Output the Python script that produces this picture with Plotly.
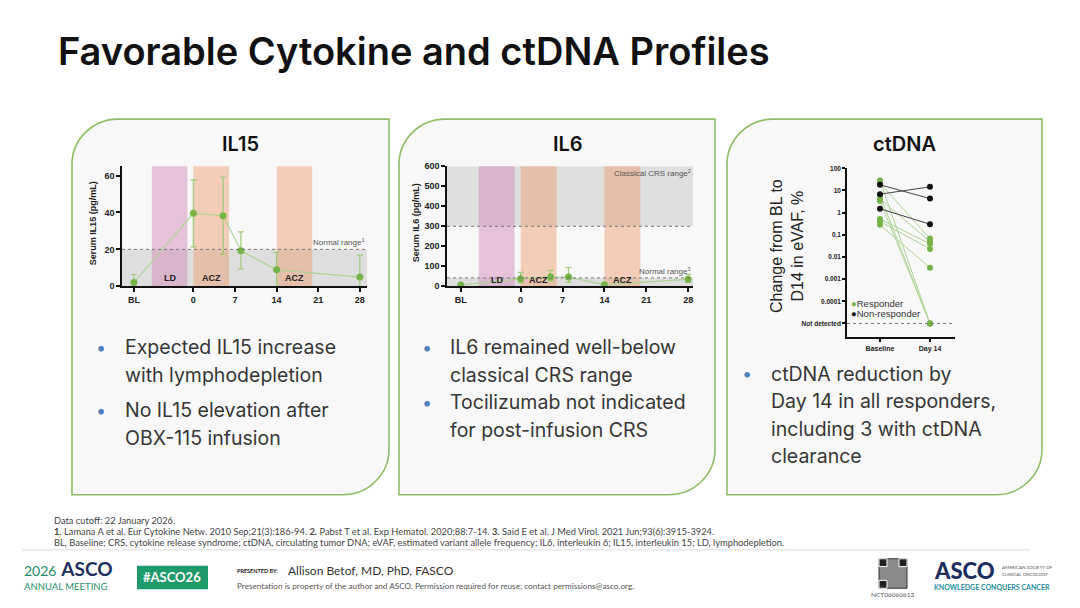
import plotly.graph_objects as go

# ---- data ----
il15_days = [-10, 0, 5, 8, 14, 28]
il15_mean = [2.0, 39.5, 38.2, 19.3, 8.9, 5.0]
il15_err_hi = [4.4, 18.1, 21.0, 10.2, 9.4, 11.9]
il15_err_lo = [2.0, 18.2, 20.8, 9.9, 8.9, 5.0]

il6_days = [-10, 0, 5, 8, 14, 28]
il6_mean = [6, 38, 46, 46, 8, 35]
il6_err_hi = [0, 32, 34, 48, 0, 25]
il6_err_lo = [0, 20, 20, 25, 0, 15]

day_ticks = [-10, 0, 7, 14, 21, 28]
day_labels = ["BL", "0", "7", "14", "21", "28"]

NOT_DETECTED = 1e-5
resp_baseline = [28, 21, 6.1, 4.1, 3.3, 0.52, 0.40, 0.28]
resp_day14 = [NOT_DETECTED, 0.068, NOT_DETECTED, 0.05, NOT_DETECTED, 0.039, 0.023, 0.0033]
nonresp_baseline = [18, 6.8, 1.5]
nonresp_day14 = [4.3, 14.5, 0.3]
ctdna_ticks = [1e-5, 1e-4, 1e-3, 0.01, 0.1, 1, 10, 100]
ctdna_labels = ["Not detected", "0.0001", "0.001", "0.01", "0.1", "1", "10", "100"]

W, H = 1080, 608
GREEN_PT = "#76b347"
GREEN_LN = "#add495"
TXT = "#363636"
FONT = "Inter"
AXFONT = "Liberation Sans, Arial"


def px(x):
    return x / W


def py(y):
    return 1 - y / H


def panel_path(x0, y0, x1, y1, r=46):
    # rounded top-left and bottom-right corners, in paper units
    k = 0.55
    rx, ry = r / W, r / H
    X0, X1 = px(x0), px(x1)
    T, B = py(y0), py(y1)
    return (f"M {X0},{B} L {X0},{T - ry} "
            f"C {X0},{T - ry + k * ry} {X0 + rx - k * rx},{T} {X0 + rx},{T} "
            f"L {X1},{T} L {X1},{B + ry} "
            f"C {X1},{B + ry - k * ry} {X1 - rx + k * rx},{B} {X1 - rx},{B} Z")


def pairs(a, b):
    xs, ys = [], []
    for u, v in zip(a, b):
        xs += [0, 1, None]
        ys += [u, v, None]
    return xs, ys


fig = go.Figure()

# IL15
fig.add_trace(go.Scatter(
    x=il15_days, y=il15_mean, mode="lines+markers", xaxis="x", yaxis="y",
    line=dict(color=GREEN_LN, width=1.2),
    marker=dict(color=GREEN_PT, size=7),
    error_y=dict(type="data", array=il15_err_hi, arrayminus=il15_err_lo,
                 color="#9cc97a", thickness=1.2, width=3),
    cliponaxis=False, showlegend=False))

# IL6
fig.add_trace(go.Scatter(
    x=il6_days, y=il6_mean, mode="lines+markers", xaxis="x2", yaxis="y2",
    line=dict(color=GREEN_LN, width=1.2),
    marker=dict(color=GREEN_PT, size=7),
    error_y=dict(type="data", array=il6_err_hi, arrayminus=il6_err_lo,
                 color="#9cc97a", thickness=1.2, width=3),
    cliponaxis=False, showlegend=False))

# ctDNA
rx_, ry_ = pairs(resp_baseline, resp_day14)
fig.add_trace(go.Scatter(
    x=rx_, y=ry_, mode="lines+markers", xaxis="x3", yaxis="y3",
    line=dict(color=GREEN_LN, width=1), marker=dict(color=GREEN_PT, size=6),
    cliponaxis=False, showlegend=False))
nx_, ny_ = pairs(nonresp_baseline, nonresp_day14)
fig.add_trace(go.Scatter(
    x=nx_, y=ny_, mode="lines+markers", xaxis="x3", yaxis="y3",
    line=dict(color="#444444", width=1), marker=dict(color="#111111", size=6),
    cliponaxis=False, showlegend=False))

shapes = []
# panels
for x0, x1 in [(72, 389), (399, 715), (727, 1042)]:
    shapes.append(dict(type="path", xref="paper", yref="paper", layer="below",
                       path=panel_path(x0, 116, x1, 498),
                       fillcolor="#f8f8f8", line=dict(color="#8fbd68", width=1.6)))

GRAY = "rgba(170,170,170,0.33)"
PINK = "rgba(212,140,188,0.5)"
PEACH = "rgba(238,152,104,0.45)"


def bands(xa, ya):
    out = []
    for a, b, c in [(-7, -1, PINK), (0, 6, PEACH), (14, 20, PEACH)]:
        out.append(dict(type="rect", xref=xa, yref=ya + " domain", x0=a, x1=b,
                        y0=0, y1=1, fillcolor=c, line_width=0, layer="below"))
    return out


def hband(xa, ya, lo, hi):
    return dict(type="rect", xref=xa + " domain", yref=ya, x0=0, x1=1, y0=lo, y1=hi,
                fillcolor=GRAY, line_width=0, layer="below")


def dline(xa, ya, yv):
    return dict(type="line", xref=xa + " domain", yref=ya, x0=0, x1=1, y0=yv, y1=yv,
                line=dict(color="#777777", width=1, dash="dot"), layer="above")


shapes += [hband("x", "y", 0, 20)] + bands("x", "y") + [dline("x", "y", 20)]
shapes += [hband("x2", "y2", 0, 42), hband("x2", "y2", 300, 600)] + bands("x2", "y2")
shapes += [dline("x2", "y2", 42), dline("x2", "y2", 300)]
shapes.append(dline("x3", "y3", NOT_DETECTED))
# footer rule
shapes.append(dict(type="line", xref="paper", yref="paper", x0=px(22), x1=px(1030),
                   y0=py(554), y1=py(554), line=dict(color="#dddddd", width=1)))
# #ASCO26 box
shapes.append(dict(type="rect", xref="paper", yref="paper", x0=px(137), x1=px(208),
                   y0=py(594), y1=py(570), fillcolor="#1f9a6a", line_width=0))
# QR code stand-in
shapes.append(dict(type="rect", xref="paper", yref="paper", x0=px(879), x1=px(907),
                   y0=py(593), y1=py(563), fillcolor="#8a8a8a", line=dict(color="#333", width=1)))
for qx, qy in [(879, 563), (899, 563), (879, 585)]:
    shapes.append(dict(type="rect", xref="paper", yref="paper", x0=px(qx), x1=px(qx + 8),
                       y0=py(qy + 8), y1=py(qy), fillcolor="#222", line=dict(color="#fff", width=1)))

ann = []


def text(x, y, s, size, color=TXT, anchor="left", weight="normal", family=FONT, yanchor="middle", angle=0):
    ann.append(dict(x=px(x), y=py(y), xref="paper", yref="paper", text=s, showarrow=False,
                    xanchor=anchor, yanchor=yanchor, textangle=angle,
                    align=anchor if anchor != "center" else "center",
                    font=dict(size=size, color=color, family=family, weight=weight)))


text(56, 47, "Favorable Cytokine and ctDNA Profiles", 38, "#111111", weight=600)
text(240, 141, "IL15", 20, "#111111", "center", 600)
text(568, 141, "IL6", 20, "#111111", "center", 600)
text(904, 141, "ctDNA", 20, "#111111", "center", 600)

bullets = [
    (101, 123, [(348, "Expected IL15 increase", True), (376, "with lymphodepletion", False),
                (412, "No IL15 elevation after", True), (440, "OBX-115 infusion", False)]),
    (427, 448, [(348, "IL6 remained well-below", True), (376, "classical CRS range", False),
                (404, "Tocilizumab not indicated", True), (432, "for post-infusion CRS", False)]),
    (747, 769, [(375, "ctDNA reduction by", True), (403, "Day 14 in all responders,", False),
                (431, "including 3 with ctDNA", False), (459, "clearance", False)]),
]
for bx, tx, lines in bullets:
    for yy, s, dot in lines:
        if dot:
            text(bx, yy, "•", 18, "#4f81bd", "center")
        text(tx, yy, s, 19.5, TXT)

# chart labels
axy = dict(family=AXFONT, weight="bold", color="#222222")
text(93, 222, "Serum IL15 (pg/mL)", 9, "#222", "center", "bold", AXFONT, angle=-90)
text(416, 222, "Serum IL6 (pg/mL)", 9, "#222", "center", "bold", AXFONT, angle=-90)
text(787, 245, "Change from BL to<br>D14 in eVAF, %", 16, "#222", "center", "normal",
     "Liberation Sans", angle=-90)

for xv, lab in [(-4, "LD"), (3, "ACZ"), (17, "ACZ")]:
    ann.append(dict(x=xv, y=4.5, xref="x", yref="y", text=lab, showarrow=False,
                    font=dict(size=9, family=AXFONT, weight="bold", color="#222")))
    ann.append(dict(x=xv, y=32, xref="x2", yref="y2", text=lab, showarrow=False,
                    font=dict(size=9, family=AXFONT, weight="bold", color="#222")))
ann.append(dict(x=1, y=20, xref="x domain", yref="y", text="Normal range<sup>1</sup>", showarrow=False,
                xanchor="right", yanchor="bottom", font=dict(size=8, family=AXFONT, color="#555")))
ann.append(dict(x=1, y=42, xref="x2 domain", yref="y2", text="Normal range<sup>3</sup>", showarrow=False,
                xanchor="right", yanchor="bottom", font=dict(size=8, family=AXFONT, color="#555")))
ann.append(dict(x=1, y=600, xref="x2 domain", yref="y2", text="Classical CRS range<sup>2</sup>",
                showarrow=False, xanchor="right", yanchor="top",
                font=dict(size=8, family=AXFONT, color="#555")))

text(849, 303, f"<span style='color:{GREEN_PT}'>●</span>Responder", 9.5, "#333", family=AXFONT)
text(849, 314, "<span style='color:#111'>●</span>Non-responder", 9.5, "#333", family=AXFONT)

# footer
FOOT = "Lato"
text(52, 524, "Data cutoff: 22 January 2026.", 9.3, "#444", family=FOOT)
text(52, 535, "<b>1.</b> Lamana A et al. Eur Cytokine Netw. 2010 Sep;21(3):186-94. <b>2.</b> Pabst T et al. "
     "Exp Hematol. 2020;88:7-14. <b>3.</b> Said E et al. J Med Virol. 2021 Jun;93(6):3915-3924.",
     9.3, "#444", family=FOOT)
text(52, 546, "BL, Baseline; CRS, cytokine release syndrome; ctDNA, circulating tumor DNA; eVAF, estimated "
     "variant allele frequency; IL6, interleukin 6; IL15, interleukin 15; LD, lymphodepletion.",
     9.3, "#444", family=FOOT)

text(22, 573, "<span style='color:#1f8f6a;font-size:14px'>2026</span> <b>ASCO</b>", 19, "#1c2f5f",
     family=FOOT)
text(22, 591, "ANNUAL MEETING", 9.5, "#1f8f6a", family=FOOT)
text(172, 582, "#ASCO26", 13, "#ffffff", "center", "bold", FOOT)
text(235, 575, "PRESENTED BY:", 5.5, "#222", weight="bold", family=FOOT)
text(286, 575, "Allison Betof, MD, PhD, FASCO", 12, "#333", family=FOOT)
text(235, 591, "Presentation is property of the author and ASCO. Permission required for reuse; "
     "contact permissions@asco.org.", 8.2, "#555", family=FOOT)
text(893, 599, "NCT06060613", 6.5, "#555", "center", family=FOOT)
text(932, 575, "ASCO", 22, "#1c2f5f", weight=900, family=FOOT)
text(1000, 572, "AMERICAN SOCIETY OF", 4.5, "#555", family=FOOT)
text(1000, 579, "CLINICAL ONCOLOGY", 4.5, "#555", family=FOOT)
text(932, 592, "KNOWLEDGE CONQUERS CANCER", 7, "#1f8fa0", weight="bold", family=FOOT)

ax_common = dict(showline=True, linecolor="#111111", linewidth=1.5, ticks="outside",
                 ticklen=4, tickwidth=1.5, tickcolor="#111111", showgrid=False,
                 zeroline=False, tickfont=dict(size=9, **axy))

fig.update_layout(
    width=W, height=H, margin=dict(l=0, r=0, t=0, b=0),
    paper_bgcolor="white", plot_bgcolor="white",
    shapes=shapes, annotations=ann, showlegend=False,
    xaxis=dict(ax_common, domain=[px(122), px(367)], range=[-12, 29.2], anchor="y",
               tickvals=day_ticks, ticktext=day_labels),
    yaxis=dict(ax_common, domain=[py(286), py(164)], range=[0, 65], anchor="x",
               tickvals=[0, 20, 40, 60]),
    xaxis2=dict(ax_common, domain=[px(447), px(693)], range=[-12.3, 28.8], anchor="y2",
                tickvals=day_ticks, ticktext=day_labels),
    yaxis2=dict(ax_common, domain=[py(286), py(164)], range=[0, 600], anchor="x2",
                tickvals=[0, 100, 200, 300, 400, 500, 600]),
    xaxis3=dict(ax_common, domain=[px(847), px(955)], range=[-0.66, 1.5], anchor="y3",
                tickvals=[0, 1], ticktext=["Baseline", "Day 14"], ticklen=3,
                tickfont=dict(size=7, **axy)),
    yaxis3=dict(ax_common, domain=[py(338), py(166)], type="log", range=[-5.63, 2], anchor="x3",
                tickvals=ctdna_ticks, ticktext=ctdna_labels, ticklen=3,
                tickfont=dict(size=6.5, **axy)),
)

fig.write_html("out.html", config={"displayModeBar": False},
               post_script="document.body.style.margin='0';")
